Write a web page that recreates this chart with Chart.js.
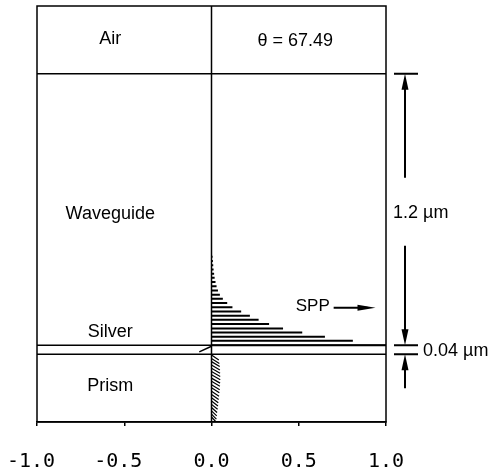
<!DOCTYPE html>
<html>
<head>
<meta charset="utf-8">
<script src="https://cdn.jsdelivr.net/npm/chart.js"></script>
<style>
  body { margin: 0; background: #fff; }
</style>
</head>
<body>
<canvas id="chart" width="492" height="471"></canvas>
<script>
// layer stack (µm), measured from the prism/silver interface
const yMin = -0.30;
const yMax = 1.54;
const interfaces = [0, 0.04, 1.24];

// x ticks
const xTicks = [-1.0, -0.5, 0.0, 0.5, 1.0];

// field in the waveguide (SPP decay), one bar per sample height
const sppY = [0.040, 0.059, 0.077, 0.096, 0.114, 0.133, 0.152, 0.170, 0.189, 0.207, 0.226,
              0.245, 0.263, 0.282, 0.300, 0.319, 0.338, 0.356, 0.375, 0.393, 0.412, 0.431];
const sppE = [1.00, 0.81, 0.65, 0.52, 0.41, 0.33, 0.27, 0.22, 0.17, 0.12, 0.09,
              0.065, 0.048, 0.037, 0.029, 0.023, 0.018, 0.015, 0.012, 0.010, 0.008, 0.006];

// field in the prism (hatched wedge)
const prismY = [-0.004, -0.019, -0.033, -0.048, -0.062, -0.077, -0.091, -0.106, -0.120, -0.135,
                -0.149, -0.164, -0.178, -0.193, -0.207, -0.222, -0.236, -0.251, -0.265, -0.278];
const prismE = [0.042, 0.045, 0.047, 0.048, 0.049, 0.050, 0.050, 0.049, 0.048, 0.047,
                0.045, 0.043, 0.041, 0.039, 0.037, 0.035, 0.032, 0.030, 0.028, 0.026];

// field inside the silver film
const silverX = [-0.07, 0];
const silverY = [0.01, 0.035];

// build segment lists, NaN breaks the line between segments
const gap = {x: NaN, y: NaN};
const sppData = [];
sppY.forEach((y, i) => { sppData.push({x: 0, y: y}, {x: sppE[i], y: y}, gap); });
const prismData = [];
prismY.forEach((y, i) => { prismData.push({x: 0, y: y}, {x: prismE[i], y: y - 0.022}, gap); });
const layerData = [];
interfaces.forEach(y => { layerData.push({x: -1, y: y}, {x: 1, y: y}, gap); });

const lineSet = (data, width) => ({
    data: data,
    showLine: true,
    spanGaps: false,
    borderColor: '#000',
    borderWidth: width,
    pointRadius: 0,
    fill: false
});

// text, arrows and the frame
const annotations = {
    id: 'annotations',
    afterDatasetsDraw(chart) {
        const ctx = chart.ctx;
        const xs = chart.scales.x, ys = chart.scales.y;
        const a = chart.chartArea;
        const px = v => xs.getPixelForValue(v);
        const py = v => ys.getPixelForValue(v);

        ctx.save();
        ctx.strokeStyle = '#000';
        ctx.fillStyle = '#000';
        ctx.lineWidth = 1.5;
        ctx.strokeRect(a.left, a.top, a.right - a.left, a.bottom - a.top);

        // vertical axis at x = 0
        ctx.beginPath();
        ctx.moveTo(px(0), a.top);
        ctx.lineTo(px(0), a.bottom);
        ctx.stroke();

        ctx.font = '18px "Liberation Sans", Arial, sans-serif';
        ctx.textAlign = 'center';
        ctx.textBaseline = 'middle';
        ctx.fillText('Air', px(-0.58), py(1.395));
        ctx.fillText('\u03b8 = 67.49', px(0.48), py(1.385));
        ctx.fillText('Waveguide', px(-0.58), py(0.62));
        ctx.fillText('Silver', px(-0.58), py(0.097));
        ctx.fillText('Prism', px(-0.58), py(-0.14));
        ctx.font = '17px "Liberation Sans", Arial, sans-serif';
        ctx.fillText('SPP', px(0.58), py(0.21));

        const arrowV = (x, y0, y1) => {
            const d = y1 > y0 ? 1 : -1;
            ctx.beginPath();
            ctx.moveTo(x, y0);
            ctx.lineTo(x, y1 - d * 8);
            ctx.stroke();
            ctx.beginPath();
            ctx.moveTo(x, y1);
            ctx.lineTo(x - 3.5, y1 - d * 16);
            ctx.lineTo(x + 3.5, y1 - d * 16);
            ctx.closePath();
            ctx.fill();
        };
        const arrowH = (x0, x1, y) => {
            ctx.beginPath();
            ctx.moveTo(x0, y);
            ctx.lineTo(x1 - 8, y);
            ctx.stroke();
            ctx.beginPath();
            ctx.moveTo(x1, y);
            ctx.lineTo(x1 - 18, y - 3);
            ctx.lineTo(x1 - 18, y + 3);
            ctx.closePath();
            ctx.fill();
        };

        ctx.lineWidth = 2;
        arrowH(px(0.70), px(0.94), py(0.205));

        // dimension marks on the right
        const dx = a.right + 19;
        const yTop = py(interfaces[2]), yAg = py(interfaces[1]), yPr = py(interfaces[0]);
        ctx.beginPath();
        [yTop, yAg, yPr].forEach(y => { ctx.moveTo(a.right + 8, y); ctx.lineTo(a.right + 32, y); });
        ctx.stroke();
        arrowV(dx, yTop + 104, yTop);
        arrowV(dx, yTop + 172, yAg);
        arrowV(dx, yPr + 34, yPr);

        ctx.font = '18px "Liberation Sans", Arial, sans-serif';
        ctx.textAlign = 'left';
        ctx.fillText('1.2 \u00b5m', a.right + 7, yTop + 139);
        ctx.fillText('0.04 \u00b5m', a.right + 37, (yAg + yPr) / 2 + 1);
        ctx.restore();
    }
};

new Chart(document.getElementById('chart'), {
    type: 'scatter',
    data: {
        datasets: [
            lineSet(layerData, 1.5),
            lineSet(sppData, 2),
            lineSet(prismData, 1.2),
            lineSet(silverX.map((x, i) => ({x: x, y: silverY[i]})), 1.5)
        ]
    },
    options: {
        responsive: false,
        animation: false,
        devicePixelRatio: 1,
        layout: {padding: {left: 37, right: 106, top: 6, bottom: 0}},
        plugins: {legend: {display: false}, tooltip: {enabled: false}},
        scales: {
            x: {
                type: 'linear',
                min: -1,
                max: 1,
                afterBuildTicks: scale => { scale.ticks = xTicks.map(v => ({value: v})); },
                afterFit: scale => {
                    scale.height = 49;
                    scale.paddingLeft = 0;
                    scale.paddingRight = 0;
                },
                grid: {drawOnChartArea: false, drawTicks: true, tickLength: 4, color: '#000', lineWidth: 1.5},
                border: {display: true, color: '#000', width: 1.5},
                ticks: {
                    color: '#000',
                    padding: 24,
                    maxRotation: 0,
                    font: {family: '"DejaVu Sans Mono", monospace', size: 20},
                    callback: v => v < 0 ? v.toFixed(1) + ' ' : v.toFixed(1)
                }
            },
            y: {
                type: 'linear',
                min: yMin,
                max: yMax,
                display: false
            }
        }
    },
    plugins: [annotations]
});
</script>
</body>
</html>
